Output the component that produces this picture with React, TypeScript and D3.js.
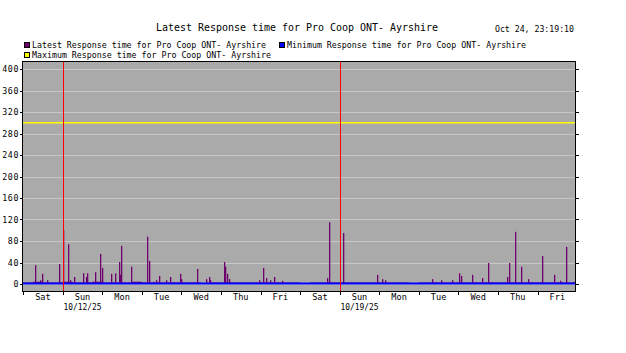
import React from 'react';
import * as d3 from 'd3';

// Time window shown in the graph (14 days ending at the timestamp)
const START = new Date(2025, 9, 10, 23, 19, 10);
const END = new Date(2025, 9, 24, 23, 19, 10);
const DAY0 = new Date(2025, 9, 11, 0, 0, 0);

const title = 'Latest Response time for Pro Coop ONT- Ayrshire';
const stamp = 'Oct 24, 23:19:10';
const legendItems = [
  { label: 'Latest Response time for Pro Coop ONT- Ayrshire', color: '#6e006e' },
  { label: 'Minimum Response time for Pro Coop ONT- Ayrshire', color: '#0000ff' },
  { label: 'Maximum Response time for Pro Coop ONT- Ayrshire', color: '#ffff00' },
];

const yTicks = [0, 40, 80, 120, 160, 200, 240, 280, 320, 360, 400];
const dayLabels = ['Sat', 'Sun', 'Mon', 'Tue', 'Wed', 'Thu', 'Fri', 'Sat', 'Sun', 'Mon', 'Tue', 'Wed', 'Thu', 'Fri'];
const dateLabels = [
  { day: 1, text: '10/12/25' },
  { day: 8, text: '10/19/25' },
];
// week boundaries (days after Oct 11)
const weekMarks = [1, 8];

// latest response, background level in 6 hour blocks from Oct 10 18:00
const latestBaseline = [
  3, 3, 4, 3, 3, 4, 3, 3, 4, 3, 3, 3, 4, 3, 3, 3,
  3, 3, 3, 2, 3, 3, 3, 3, 3, 3, 3, 3, 3, 2, 3, 3,
  3, 3, 3, 3, 3, 3, 3, 3, 2, 3, 3, 3, 3, 3, 3, 3,
  3, 3, 3, 3, 3, 3, 3, 3, 3, 3,
];

// latest response spikes: [hours after Oct 11 00:00, ms]
const latestSpikes: [number, number][] = [
  [7.4, 35], [10.2, 7], [11.6, 19], [14.3, 7], [22.0, 37], [24.4, 100],
  [27.4, 74], [28.4, 7], [31.1, 13], [36.5, 20], [38.1, 13], [38.9, 20],
  [43.8, 22], [46.6, 56], [48.0, 30], [53.5, 19], [55.9, 20], [58.3, 41],
  [58.8, 17], [59.6, 71], [65.6, 32], [75.3, 88], [76.5, 43], [79.0, 4],
  [80.6, 7], [82.6, 15], [86.6, 7], [89.3, 13], [95.3, 19], [95.9, 9],
  [105.7, 28], [111.1, 9], [112.9, 13], [113.5, 7], [122.0, 41], [122.6, 32],
  [123.8, 19], [124.7, 9], [143.3, 7], [145.7, 30], [147.5, 11], [149.9, 7],
  [152.4, 13], [157.2, 6], [184.5, 11], [185.8, 115], [194.2, 95], [214.9, 17],
  [217.9, 9], [219.7, 7], [248.2, 9], [253.6, 7], [260.3, 7], [264.5, 20],
  [265.7, 15], [272.4, 17], [278.4, 11], [282.0, 39], [293.7, 13], [294.9, 39],
  [298.5, 97], [302.2, 32], [306.4, 9], [314.9, 52], [322.2, 17], [325.8, 6],
  [329.4, 69], [334.3, 4],
];

// minimum and maximum, one value per day from Oct 10
const minimumValues = [0.8, 0.8, 0.8, 0.8, 0.8, 0.8, 0.8, 0.8, 0.8, 0.8, 0.8, 0.8, 0.8, 0.8, 0.8, 0.8];
const maximumValues = [300, 300, 300, 300, 300, 300, 300, 300, 300, 300, 300, 300, 300, 300, 300, 300];

const FONT = '"DejaVu Sans Mono", monospace';

export default function App() {
  const left = 22;
  const right = 576;
  const top = 61;
  const bottom = 292;

  const x = d3.scaleTime().domain([START, END]).range([left, right]);
  const y = d3.scaleLinear().domain([0, 400]).range([284, 69]);

  const hourAt = (h: number) => new Date(DAY0.getTime() + h * 3600 * 1000);
  const dayAt = (d: number) => d3.timeDay.offset(DAY0, d);

  const baseStart = new Date(2025, 9, 10, 18, 0, 0);
  const basePts = latestBaseline.map((v, i) => ({ t: d3.timeHour.offset(baseStart, i * 6), v }));
  const baseArea = d3.area<{ t: Date; v: number }>()
    .x(d => x(d.t))
    .y0(y(0))
    .y1(d => y(d.v))
    .curve(d3.curveStepAfter);

  const dailyStart = new Date(2025, 9, 10, 0, 0, 0);
  const stepLine = d3.line<number>()
    .x((_, i) => x(d3.timeDay.offset(dailyStart, i)))
    .y(d => y(d))
    .curve(d3.curveStepAfter);

  const midnights = d3.range(0, 15).map(dayAt);

  return (
    <div style={{ position: 'fixed', left: 0, top: 0 }}>
      <svg width={626} height={353} style={{ display: 'block', background: '#fff' }}>
        <defs>
          <clipPath id="plot">
            <rect x={left} y={top} width={right - left} height={bottom - top} />
          </clipPath>
        </defs>

        {/* title and timestamp */}
        <text x={297} y={31} textAnchor="middle" fontFamily={FONT} fontSize={10.5} textLength={282}
          lengthAdjust="spacingAndGlyphs">{title}</text>
        <text x={495} y={32} fontFamily={FONT} fontSize={8.3} textLength={79}
          lengthAdjust="spacingAndGlyphs">{stamp}</text>

        {/* legend */}
        {legendItems.map((item, i) => {
          const lx = i === 1 ? 279 : 24;
          const ly = i === 2 ? 52 : 42;
          return (
            <g key={item.label}>
              <rect x={lx + 0.5} y={ly + 0.5} width={5} height={5} fill={item.color} stroke="#000" />
              <text x={lx + 8} y={ly + 6} fontFamily={FONT} fontSize={8.3}
                textLength={item.label.length * 4.98} lengthAdjust="spacingAndGlyphs">{item.label}</text>
            </g>
          );
        })}

        {/* plot background */}
        <rect x={left} y={top} width={right - left} height={bottom - top} fill="#aaaaaa" />

        {/* grid */}
        {yTicks.map(t => (
          <line key={t} x1={left} x2={right} y1={Math.round(y(t)) + 0.5} y2={Math.round(y(t)) + 0.5}
            stroke="#c8c8c8" strokeWidth={1} />
        ))}

        <g clipPath="url(#plot)">
          {/* latest response */}
          <path d={baseArea(basePts) ?? ''} fill="#6e006e" />
          {latestSpikes.map(([h, v], i) => (
            <rect key={i} x={Math.round(x(hourAt(h)))} y={y(v)} width={1.3} height={y(0) - y(v)} fill="#6e006e" />
          ))}
          {/* maximum */}
          <path d={stepLine(maximumValues) ?? ''} fill="none" stroke="#ffff00" strokeWidth={1.5} />
          {/* minimum */}
          <path d={stepLine(minimumValues) ?? ''} fill="none" stroke="#0000ff" strokeWidth={2} />
        </g>

        {/* week boundaries */}
        {weekMarks.map(d => (
          <line key={d} x1={Math.round(x(dayAt(d))) + 0.5} x2={Math.round(x(dayAt(d))) + 0.5} y1={top} y2={bottom}
            stroke="#ff0000" strokeWidth={1} />
        ))}

        {/* frame */}
        <rect x={left + 0.5} y={top + 0.5} width={right - left - 1} height={bottom - top - 1} fill="none" stroke="#000" />

        {/* y axis ticks and labels */}
        {yTicks.map(t => (
          <g key={t}>
            <line x1={left - 2} x2={left} y1={Math.round(y(t)) + 0.5} y2={Math.round(y(t)) + 0.5} stroke="#000" />
            <line x1={right} x2={right + 3} y1={Math.round(y(t)) + 0.5} y2={Math.round(y(t)) + 0.5} stroke="#000" />
            <text x={19} y={y(t) + 3} textAnchor="end" fontFamily={FONT} fontSize={8.3} letterSpacing={0.6}>{t}</text>
          </g>
        ))}

        {/* x axis ticks and labels */}
        {midnights.map((d, i) => (
          x(d) >= left && x(d) <= right ? (
            <line key={i} x1={Math.round(x(d)) + 0.5} x2={Math.round(x(d)) + 0.5} y1={bottom - 1} y2={bottom + 3}
              stroke="#000" />
          ) : null
        ))}
        {dayLabels.map((lab, i) => (
          <text key={i} x={x(d3.timeHour.offset(dayAt(i), 12))} y={300} textAnchor="middle"
            fontFamily={FONT} fontSize={8.6}>{lab}</text>
        ))}
        {dateLabels.map(dl => (
          <text key={dl.text} x={x(d3.timeHour.offset(dayAt(dl.day), 12))} y={310} textAnchor="middle"
            fontFamily={FONT} fontSize={8.3} textLength={38} lengthAdjust="spacingAndGlyphs">{dl.text}</text>
        ))}
      </svg>
    </div>
  );
}
